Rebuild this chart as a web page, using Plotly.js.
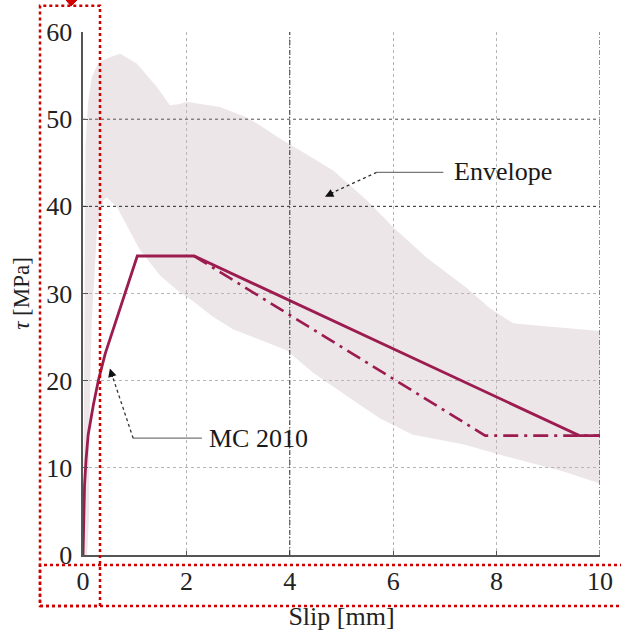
<!DOCTYPE html>
<html>
<head>
<meta charset="utf-8">
<script src="https://cdn.plot.ly/plotly-3.0.1.min.js"></script>
<style>
  html, body { margin: 0; padding: 0; background: #ffffff; }
  #chart { width: 621px; height: 635px; }
</style>
</head>
<body>
<div id="chart"></div>
<script>
// Bond stress–slip: experimental envelope and MC 2010 model curves

// Envelope of test curves: upper edge (left to right), then lower edge (right to left)
const envUpperSlip = [0, 0.01, 0.02, 0.03, 0.05, 0.1, 0.17, 0.3, 0.52, 0.72, 1.04, 1.43, 1.68, 1.85, 2.0, 2.65, 3.17, 3.42, 3.8, 4.2, 4.84, 5.49, 6.0, 6.65, 7.43, 7.87, 8.32, 9.0, 10];
const envUpperTau  = [0, 12, 26, 38, 47, 52, 54.8, 56.5, 57.1, 57.5, 56.4, 53.7, 51.6, 51.7, 52.0, 51.4, 50.2, 49.3, 47.8, 46.4, 44.1, 40.7, 37.6, 34.1, 30.6, 28.3, 26.6, 26.2, 25.7];
const envLowerSlip = [10, 9.28, 8.32, 7.35, 6.38, 5.74, 5.36, 4.45, 3.94, 3.4, 2.9, 2.5, 2.13, 1.8, 1.5, 1.1, 0.85, 0.66, 0.46, 0.39, 0.27, 0.17, 0.14, 0.12, 0.12, 0.08];
const envLowerTau  = [8.2, 9.6, 11.1, 12.7, 13.8, 15.7, 17.2, 20.9, 23.5, 24.7, 25.9, 27.4, 29.1, 30.5, 32.0, 35.0, 37.8, 39.9, 41.0, 40.7, 37.2, 26.8, 20.0, 12.0, 5.0, 0];

// MC 2010 curve, solid branch
const mcSlip = [0, 0.01, 0.03, 0.06, 0.10, 0.2, 0.3, 0.43, 0.62, 0.81, 1.05, 2.15, 9.6, 10];
const mcTau  = [0, 4.5, 8.0, 11.0, 13.8, 17.2, 20.1, 23.1, 26.6, 30.0, 34.3, 34.3, 13.7, 13.7];

// MC 2010 alternative softening branch (dash-dot)
const mcAltSlip = [2.15, 7.78, 10];
const mcAltTau  = [34.3, 13.7, 13.7];

// Axis ticks
const xTicks = [0, 2, 4, 6, 8, 10];
const yTicks = [0, 10, 20, 30, 40, 50, 60];

const curveColor = '#9c1c4f';
const serif = 'Liberation Serif, Times New Roman, serif';

const envelope = {
  x: envUpperSlip.concat(envLowerSlip),
  y: envUpperTau.concat(envLowerTau),
  type: 'scatter',
  mode: 'lines',
  fill: 'toself',
  fillcolor: 'rgba(196,178,188,0.32)',
  line: { width: 0, color: 'rgba(0,0,0,0)' },
  hoverinfo: 'skip',
  showlegend: false
};

const mcAlt = {
  x: mcAltSlip, y: mcAltTau,
  type: 'scatter', mode: 'lines',
  line: { color: curveColor, width: 2.6, dash: '15px,6px,3px,6px' },
  showlegend: false
};

const mc = {
  x: mcSlip, y: mcTau,
  type: 'scatter', mode: 'lines',
  line: { color: curveColor, width: 2.8 },
  showlegend: false
};

// plot-area geometry in pixels (for margin-side overlays)
const L = 83, R = 600, T = 32, B = 555;
const px = X => (X - L) / (R - L);
const py = Y => (B - Y) / (B - T);

const boxStyle = { color: '#d00000', width: 2.5, dash: 'dot' };

const layout = {
  width: 621,
  height: 635,
  margin: { l: L, r: 621 - R, t: T, b: 635 - B },
  paper_bgcolor: '#ffffff',
  plot_bgcolor: '#ffffff',
  font: { family: serif, size: 26, color: '#222222' },
  xaxis: {
    range: [0, 10],
    tickvals: xTicks,
    ticktext: xTicks.map(String),
    showline: true, linecolor: '#555555', linewidth: 1.6,
    ticks: 'inside', ticklen: 4, tickcolor: '#555555',
    ticklabelstandoff: 2,
    showgrid: true, gridcolor: '#b5b5b5', gridwidth: 1, griddash: 'dot',
    zeroline: false,
    title: { text: 'Slip [mm]', font: { family: serif, size: 26, color: '#222222' }, standoff: 12 }
  },
  yaxis: {
    range: [0, 60],
    tickvals: yTicks,
    ticktext: yTicks.map(String),
    showline: true, linecolor: '#555555', linewidth: 1.6,
    ticks: 'inside', ticklen: 5, tickcolor: '#555555',
    ticklabelstandoff: 4,
    showgrid: true, gridcolor: '#b5b5b5', gridwidth: 1, griddash: 'dot',
    zeroline: false,
    title: { text: '<i>τ</i> [MPa]', font: { family: serif, size: 23, color: '#222222' }, standoff: 10 }
  },
  shapes: [
    // darker grid lines
    { type: 'line', xref: 'x', yref: 'paper', x0: 4, x1: 4, y0: 0, y1: 1,
      line: { color: '#333333', width: 1, dash: '5px,2px,1px,2px' }, layer: 'above' },
    { type: 'line', xref: 'x', yref: 'paper', x0: 10, x1: 10, y0: 0, y1: 1,
      line: { color: '#444444', width: 1.2, dash: '5px,2px,1px,2px' }, layer: 'above' },
    { type: 'line', xref: 'paper', yref: 'y', x0: 0, x1: 1, y0: 40, y1: 40,
      line: { color: '#333333', width: 1, dash: 'dot' }, layer: 'above' },
    { type: 'line', xref: 'paper', yref: 'y', x0: 0, x1: 1, y0: 50, y1: 50,
      line: { color: '#666666', width: 1, dash: 'dot' }, layer: 'above' },
    // leader for "Envelope"
    { type: 'line', xref: 'x', yref: 'y', x0: 5.68, y0: 43.9, x1: 6.97, y1: 43.9,
      line: { color: '#777777', width: 1.2 } },
    { type: 'line', xref: 'x', yref: 'y', x0: 5.68, y0: 43.9, x1: 4.80, y1: 41.5,
      line: { color: '#333333', width: 1.3, dash: 'dot' } },
    // leader for "MC 2010"
    { type: 'line', xref: 'x', yref: 'y', x0: 0.97, y0: 13.4, x1: 2.30, y1: 13.4,
      line: { color: '#777777', width: 1.2 } },
    { type: 'line', xref: 'x', yref: 'y', x0: 0.97, y0: 13.4, x1: 0.57, y1: 20.5,
      line: { color: '#333333', width: 1.3, dash: 'dot' } },
    // red dotted frames and marker in the margins
    { type: 'rect', xref: 'paper', yref: 'paper',
      x0: px(40), x1: px(100), y0: py(606), y1: py(5.7), line: boxStyle },
    { type: 'rect', xref: 'paper', yref: 'paper',
      x0: px(40), x1: px(623), y0: py(606), y1: py(565), line: boxStyle },
    { type: 'path', xref: 'paper', yref: 'paper',
      path: 'M ' + px(66) + ' ' + py(0) + ' L ' + px(77) + ' ' + py(0) + ' L ' + px(71) + ' ' + py(6) + ' Z',
      fillcolor: '#d00000', line: { color: '#d00000', width: 1 } }
  ],
  annotations: [
    { x: 7.13, y: 44.0, xref: 'x', yref: 'y', text: 'Envelope', showarrow: false,
      xanchor: 'left', yanchor: 'middle', font: { family: serif, size: 26, color: '#1a1a1a' } },
    { x: 4.68, y: 41.1, xref: 'x', yref: 'y', text: '', showarrow: true,
      ax: 10, ay: -5, arrowhead: 2, arrowsize: 1.3, arrowwidth: 1.3, arrowcolor: '#111111' },
    { x: 2.39, y: 13.4, xref: 'x', yref: 'y', text: 'MC 2010', showarrow: false,
      xanchor: 'left', yanchor: 'middle', font: { family: serif, size: 26, color: '#1a1a1a' } },
    { x: 0.52, y: 21.4, xref: 'x', yref: 'y', text: '', showarrow: true,
      ax: 3, ay: 10, arrowhead: 2, arrowsize: 1.3, arrowwidth: 1.3, arrowcolor: '#111111' }
  ]
};

Plotly.newPlot('chart', [envelope, mcAlt, mc], layout, { displayModeBar: false, staticPlot: true });
</script>
</body>
</html>
